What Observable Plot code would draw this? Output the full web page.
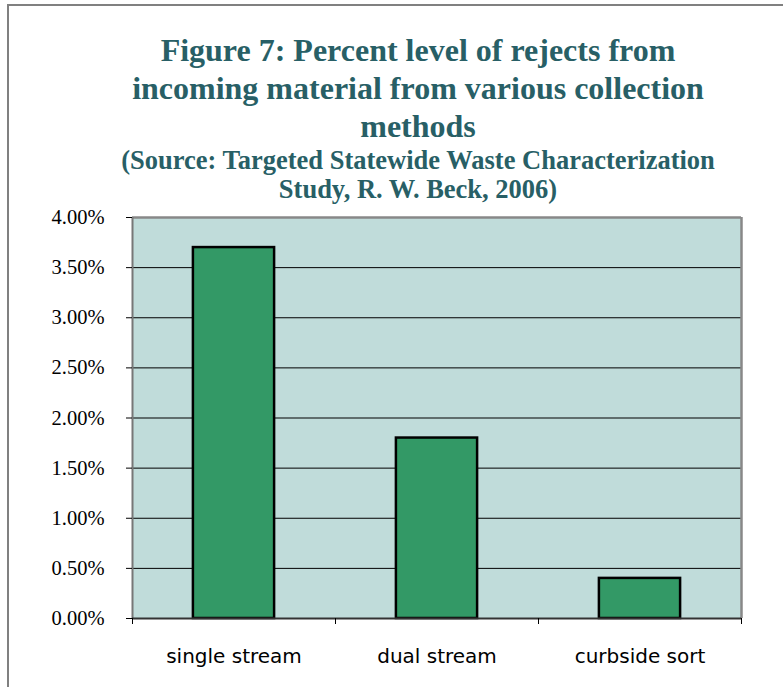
<!DOCTYPE html>
<html>
<head>
<meta charset="utf-8">
<script src="https://cdn.jsdelivr.net/npm/d3@7"></script>
<script src="https://cdn.jsdelivr.net/npm/@observablehq/plot@0.6"></script>
<style>
  html, body { margin: 0; padding: 0; background: #fff; overflow: hidden; }
  #wrap { position: relative; width: 783px; height: 687px; }
  #border { position: absolute; left: 7px; top: 4px; width: 800px; height: 700px;
            border-left: 2px solid #808080; border-top: 2px solid #808080; }
  #title { position: absolute; left: 18px; width: 800px; top: 31px; text-align: center;
           font-family: "Liberation Serif", "Times New Roman", serif; font-weight: bold;
           color: #285f66; font-size: 32px; line-height: 38px; }
  #subtitle { position: absolute; left: 18px; width: 800px; top: 146px; text-align: center;
           font-family: "Liberation Serif", "Times New Roman", serif; font-weight: bold;
           color: #285f66; font-size: 26.5px; line-height: 29px; }
  #chart { position: absolute; left: 0; top: 205px; }
  #chart g[aria-label="y-axis tick label"] { font-family: "Liberation Serif", "Times New Roman", serif; font-size: 20.5px; }
  #chart g[aria-label="x-axis tick label"] { font-family: "DejaVu Sans", sans-serif; font-size: 20px; }
</style>
</head>
<body>
<div id="wrap">
  <div id="border"></div>
  <div id="title">Figure 7: Percent level of rejects from<br>incoming material from various collection<br>methods</div>
  <div id="subtitle">(Source: Targeted Statewide Waste Characterization<br>Study, R. W. Beck, 2006)</div>
  <div id="chart"></div>
</div>
<script>
const categories = ["single stream", "dual stream", "curbside sort"];
const values = [3.7, 1.8, 0.4];
const yTicks = [0, 0.5, 1, 1.5, 2, 2.5, 3, 3.5, 4];

const data = categories.map((c, i) => ({category: c, index: i, value: values[i]}));
const boundaries = d3.range(categories.length + 1);
const centers = categories.map((c, i) => i + 0.5);

const chart = Plot.plot({
  width: 783,
  height: 482,
  marginTop: 12,
  marginBottom: 69,
  marginLeft: 132,
  marginRight: 42,
  x: {domain: [0, categories.length], axis: null},
  y: {domain: [0, 4], axis: null},
  style: {background: "transparent"},
  marks: [
    Plot.frame({fill: "#c0dcda", stroke: "none"}),
    Plot.ruleY(yTicks.filter(d => d > 0 && d < 4), {stroke: "#000", strokeWidth: 1}),
    Plot.rectY(data, {x1: d => d.index + 0.3, x2: d => d.index + 0.7, y: "value",
      fill: "#339966", stroke: "#000", strokeWidth: 2.5}),
    Plot.ruleY([4], {stroke: "#888", strokeWidth: 2.5}),
    Plot.ruleX([categories.length], {stroke: "#888", strokeWidth: 2.5}),
    Plot.ruleX([0], {stroke: "#777", strokeWidth: 2}),
    Plot.ruleY([0], {stroke: "#333", strokeWidth: 2}),
    Plot.axisY({ticks: yTicks, tickSize: 6, tickPadding: 22, stroke: "#000", label: null,
      tickFormat: d => d.toFixed(2) + "%", fill: "#000"}),
    Plot.axisX({ticks: boundaries, tickSize: 6, tickFormat: () => "", stroke: "#000", label: null}),
    Plot.axisX({ticks: centers, tickSize: 0, tickPadding: 30, label: null,
      tickFormat: v => categories[Math.floor(v)], fill: "#000"})
  ]
});
document.getElementById("chart").appendChild(chart);
</script>
</body>
</html>
